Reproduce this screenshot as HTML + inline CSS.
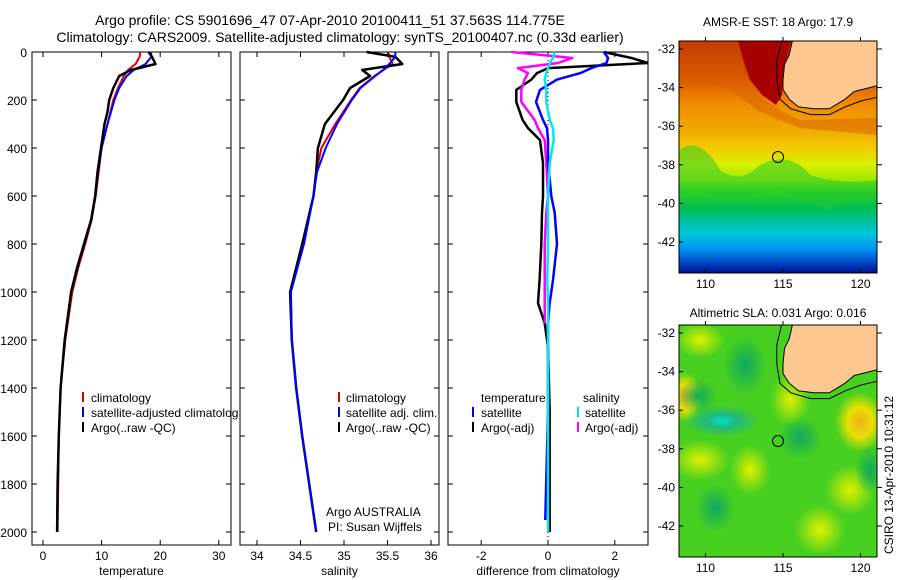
<!DOCTYPE html>
<html><head><meta charset="utf-8"><style>
body{margin:0;background:#fff;}
svg{display:block;font-family:"Liberation Sans",sans-serif;}
</style></head><body>
<svg id="fig" width="900" height="580" viewBox="0 0 900 580">
<defs>
<clipPath id="c1"><rect x="32" y="45" width="199" height="500"/></clipPath>
<clipPath id="c2"><rect x="240" y="45" width="199" height="500"/></clipPath>
<clipPath id="c3"><rect x="448" y="45" width="200" height="500"/></clipPath>
<clipPath id="cl1"><rect x="32" y="380" width="206" height="60"/></clipPath>
<clipPath id="m1"><rect x="679" y="41" width="198" height="232"/></clipPath>
<clipPath id="m2"><rect x="679" y="325" width="198" height="232"/></clipPath>
<linearGradient id="sst" x1="0" y1="41" x2="0" y2="273" gradientUnits="userSpaceOnUse">
<stop offset="0" stop-color="#b01800"/><stop offset="0.15" stop-color="#d85000"/>
<stop offset="0.26" stop-color="#f08800"/><stop offset="0.38" stop-color="#f0a800"/>
<stop offset="0.47" stop-color="#f0d000"/><stop offset="0.53" stop-color="#d8f000"/>
<stop offset="0.6" stop-color="#a0e800"/><stop offset="0.65" stop-color="#30d020"/>
<stop offset="0.72" stop-color="#00c050"/><stop offset="0.78" stop-color="#00c0a0"/>
<stop offset="0.83" stop-color="#00c8d8"/><stop offset="0.9" stop-color="#0090f0"/>
<stop offset="0.96" stop-color="#0040c0"/><stop offset="1" stop-color="#001090"/>
</linearGradient>
<radialGradient id="gy"><stop offset="0" stop-color="#e0f000"/><stop offset="1" stop-color="#e0f000" stop-opacity="0"/></radialGradient>
<radialGradient id="go"><stop offset="0" stop-color="#f0b020"/><stop offset="0.5" stop-color="#e8e000"/><stop offset="1" stop-color="#e8e000" stop-opacity="0"/></radialGradient>
<radialGradient id="gd"><stop offset="0" stop-color="#10a860"/><stop offset="1" stop-color="#10a860" stop-opacity="0"/></radialGradient>
<radialGradient id="gc"><stop offset="0" stop-color="#00e0d0"/><stop offset="0.4" stop-color="#20b880"/><stop offset="1" stop-color="#20b880" stop-opacity="0"/></radialGradient>
</defs>

<text x="330" y="25" font-size="14" text-anchor="middle">Argo profile: CS 5901696_47 07-Apr-2010 20100411_51 37.563S 114.775E</text>
<text x="340" y="42" font-size="14" text-anchor="middle">Climatology: CARS2009. Satellite-adjusted climatology: synTS_20100407.nc (0.33d earlier)</text>

<g id="p1"></g>
<g id="p2"></g>
<g id="p3"></g>

<g clip-path="url(#cl1)" font-size="12">
<line x1="83" y1="392" x2="83" y2="402" stroke="#e00000" stroke-width="2"/>
<text x="91" y="402">climatology</text>
<line x1="83" y1="407" x2="83" y2="417" stroke="#0000ff" stroke-width="2"/>
<text x="91" y="417">satellite-adjusted climatology</text>
<line x1="83" y1="422" x2="83" y2="432" stroke="#000" stroke-width="2"/>
<text x="91" y="432">Argo(..raw -QC)</text>
</g>
<g font-size="12">
<line x1="339" y1="392" x2="339" y2="402" stroke="#e00000" stroke-width="2"/>
<text x="346" y="402">climatology</text>
<line x1="339" y1="407" x2="339" y2="417" stroke="#0000ff" stroke-width="2"/>
<text x="346" y="417">satellite adj. clim.</text>
<line x1="339" y1="422" x2="339" y2="432" stroke="#000" stroke-width="2"/>
<text x="346" y="432">Argo(..raw -QC)</text>
<text x="326" y="516">Argo AUSTRALIA</text>
<text x="328" y="531">PI: Susan Wijffels</text>
</g>
<g font-size="12">
<text x="481" y="402">temperature</text>
<text x="583" y="402">salinity</text>
<line x1="473" y1="407" x2="473" y2="417" stroke="#0000ff" stroke-width="2"/>
<text x="481" y="417">satellite</text>
<line x1="473" y1="422" x2="473" y2="432" stroke="#000" stroke-width="2"/>
<text x="481" y="432">Argo(-adj)</text>
<line x1="578" y1="407" x2="578" y2="417" stroke="#00e0e8" stroke-width="2"/>
<text x="585" y="417">satellite</text>
<line x1="578" y1="422" x2="578" y2="432" stroke="#ff00ff" stroke-width="2"/>
<text x="585" y="432">Argo(-adj)</text>
</g>

<text x="778" y="26" font-size="12" text-anchor="middle">AMSR-E SST: 18 Argo: 17.9</text>
<g clip-path="url(#m1)">
<rect x="679" y="41" width="198" height="232" fill="url(#sst)"/>
<path d="M679,41 L740,41 L745,75 L765,100 L782,112 L800,120 L877,118 L877,135 L800,128 L760,112 L730,90 L700,80 L679,85Z" fill="#d86000" opacity="0.5"/>
<path d="M738,41 L790,41 L783,75 L782,95 L776,105 L762,95 L750,80 L744,62Z" fill="#a80000"/>
<path d="M679,150 Q700,135 720,170 Q740,185 760,165 Q790,150 810,175 Q840,185 877,180 L877,200 Q850,195 830,210 Q800,200 780,190 Q750,195 720,200 Q700,185 679,195Z" fill="#20c830" opacity="0.5"/>
</g>
<g id="land1"></g>
<rect x="679" y="41" width="198" height="232" fill="none" stroke="#000"/>
<circle cx="778" cy="157" r="5.5" fill="none" stroke="#000"/>

<text x="778" y="317" font-size="12" text-anchor="middle">Altimetric SLA: 0.031 Argo: 0.016</text>
<g clip-path="url(#m2)">
<rect x="679" y="325" width="198" height="232" fill="#48d020"/>
<ellipse cx="700" cy="340" rx="25" ry="18" fill="url(#gy)"/>
<ellipse cx="685" cy="397" rx="18" ry="25" fill="url(#go)"/>
<ellipse cx="860" cy="422" rx="25" ry="30" fill="url(#go)"/>
<ellipse cx="790" cy="400" rx="20" ry="25" fill="url(#gy)"/>
<ellipse cx="700" cy="460" rx="30" ry="20" fill="url(#gy)"/>
<ellipse cx="750" cy="470" rx="20" ry="25" fill="url(#gy)"/>
<ellipse cx="850" cy="490" rx="25" ry="25" fill="url(#gy)"/>
<ellipse cx="820" cy="530" rx="25" ry="25" fill="url(#gy)"/>
<ellipse cx="722" cy="421" rx="38" ry="16" fill="url(#gc)"/>
<ellipse cx="698" cy="396" rx="20" ry="18" fill="url(#gd)"/>
<ellipse cx="745" cy="365" rx="22" ry="30" fill="url(#gd)"/>
<ellipse cx="800" cy="438" rx="22" ry="22" fill="url(#gd)"/>
<ellipse cx="715" cy="508" rx="20" ry="25" fill="url(#gd)"/>
<ellipse cx="870" cy="470" rx="15" ry="25" fill="url(#gd)"/>
</g>
<g id="land2"></g>
<rect x="679" y="325" width="198" height="232" fill="none" stroke="#000"/>
<circle cx="778" cy="441" r="5.5" fill="none" stroke="#000"/>
<g id="mapaxes"></g>
<text transform="translate(893,475) rotate(-90)" font-size="12" text-anchor="middle">CSIRO 13-Apr-2010 10:31:12</text>
</svg>
<script>
const depthT = [0,20,50,75,100,150,200,250,300,400,500,600,700,800,900,1000,1200,1400,1600,1800,2000];
const tempClim = [16.6,16.5,15.8,14.5,13.8,12.8,12.0,11.5,11.0,10.0,9.5,9.0,8.3,7.2,6.0,5.0,3.8,3.0,2.7,2.6,2.5];
const tempSat  = [18.4,18.5,17.5,15.5,14.3,13.0,12.2,11.6,11.0,10.0,9.4,8.9,8.2,7.0,5.9,4.8,3.7,3.0,2.7,2.5,2.4];
const tempArgo = [18.0,18.6,19.2,15.0,13.0,12.0,11.3,11.0,10.5,9.9,9.3,8.9,8.2,7.0,5.8,4.8,3.7,3.0,2.7,2.5,2.4];
const depthS = [0,20,50,75,100,150,200,300,400,500,600,800,1000,1200,1400,1600,1800,2000];
const salClim = [35.51,35.52,35.56,35.45,35.35,35.18,35.08,34.90,34.74,34.68,34.65,34.53,34.39,34.40,34.45,34.52,34.60,34.68];
const salSat  = [35.59,35.59,35.52,35.45,35.36,35.19,35.09,34.92,34.79,34.69,34.65,34.54,34.39,34.40,34.45,34.52,34.60,34.68];
const salArgo = [35.26,35.59,35.67,35.21,35.30,35.07,34.99,34.78,34.70,34.68,34.65,34.52,34.38,34.40,34.45,34.52,34.60,34.68];
const depthD = [0,25,46,67,88,115,158,208,283,317,367,463,600,670,800,950,1046,1130,1230,1500,1950,2000];
const dTempSat  = [1.67,1.8,1.75,1.3,0.97,0.27,-0.24,-0.36,-0.15,-0.03,0.0,0.0,0.1,0.2,0.27,0.15,0.05,0.0,0.0,0.0,-0.08,null];
const dTempArgo = [1.67,2.5,3.0,0.0,-0.33,-0.5,-0.95,-0.95,-0.76,-0.6,-0.24,-0.15,-0.15,-0.18,-0.2,-0.25,-0.3,-0.1,0.0,0.05,0.05,0.05];
const dSalSat   = [0.2,0.15,0.05,0.0,-0.05,-0.1,-0.05,-0.05,0.05,0.15,0.17,0.05,0.0,0.0,0.0,-0.02,0.0,0.0,0.0,0.0,0.0,0.0];
const dSalArgo  = [-1.1,0.73,0.3,-0.9,-0.6,-0.7,-0.8,-0.8,-0.4,-0.3,-0.1,-0.05,0.0,-0.05,-0.1,-0.1,-0.1,-0.1,null,null,null,null];
const depthTicks = [0,200,400,600,800,1000,1200,1400,1600,1800,2000];
const tempTicks = [0,10,20,30];
const salTicks = [34,34.5,35,35.5,36];
const salTickLabels = ["34","34.5","35","35.5","36"];
const diffTicks = [-2,0,2];
const lonTicks = [110,115,120];
const latTicks = [-32,-34,-36,-38,-40,-42];
const coastLon = [115.6,115.4,115.1,115.0,115.0,115.4,116.0,117.0,118.0,119.0,119.6,120.6,121.2];
const coastLat = [-31.6,-32.3,-32.8,-33.6,-34.1,-34.6,-35.0,-35.1,-35.1,-34.6,-34.2,-34.0,-33.9];
const contLon = [114.9,114.6,114.6,114.8,115.5,116.8,118.0,119.0,120.0,121.2];
const contLat = [-31.6,-32.6,-33.6,-34.6,-35.1,-35.4,-35.4,-35.0,-34.7,-34.5];

const NS = "http://www.w3.org/2000/svg";
const yD = d => 52 + 0.24*d;
const xT = t => 43 + 5.86*t;
const xS = s => 257 + 87*(s-34);
const xDf = v => 548 + 33.4*v;
const mX = lon => 783 + 15.5*(lon-115);
const mY1 = lat => 49 + 19.3*(-32-lat);
const mY2 = lat => 333 + 19.3*(-32-lat);
const BOT = 545;

function el(tag, attrs, parent){const e=document.createElementNS(NS,tag);for(const k in attrs)e.setAttribute(k,attrs[k]);parent.appendChild(e);return e;}
function line(xs, ds, xf, color, w, parent, name){
  let d="",start=true;
  for(let i=0;i<ds.length;i++){ if(xs[i]===null||xs[i]===undefined){start=true;continue;}
    d+=(start?"M":"L")+xf(xs[i]).toFixed(1)+","+yD(ds[i]).toFixed(1); start=false;}
  const p=el("path",{d:d,fill:"none",stroke:color,"stroke-width":w,"stroke-linejoin":"round"},parent);
  
  
}
function panel(g, x0, x1, ticksX, labels, xf, xlabel, leftLabels, clip){
  const box=el("rect",{x:x0,y:52,width:x1-x0,height:BOT-52,fill:"#fff",stroke:"#000"},g);
  
  
  ticksX.forEach((t,i)=>{const x=xf(t);
    el("line",{x1:x,y1:52,x2:x,y2:57,stroke:"#000"},g);
    el("line",{x1:x,y1:BOT,x2:x,y2:BOT-5,stroke:"#000"},g);
    const tx=el("text",{x:x,y:560,"font-size":12,"text-anchor":"middle"},g);tx.textContent=labels[i];
    
    
  });
  depthTicks.forEach(d=>{const y=yD(d);
    el("line",{x1:x0,y1:y,x2:x0+5,y2:y,stroke:"#000"},g);
    el("line",{x1:x1,y1:y,x2:x1-5,y2:y,stroke:"#000"},g);
    if(leftLabels){const tx=el("text",{x:27,y:y+5,"font-size":12,"text-anchor":"end"},g);tx.textContent=d;
      
      }
  });
  const xl=el("text",{x:(x0+x1)/2,y:575,"font-size":12,"text-anchor":"middle"},g);xl.textContent=xlabel;
  
  
  return el("g",{"clip-path":"url(#"+clip+")"},g);
}
const p1=document.getElementById("p1"),p2=document.getElementById("p2"),p3=document.getElementById("p3");
const c1=panel(p1,32,231,tempTicks,tempTicks.map(String),xT,"temperature",true,"c1");
line(tempClim,depthT,xT,"#e00000",2,c1,"temp-climatology-line");
line(tempSat,depthT,xT,"#0000ff",2,c1,"temp-satellite-line");
line(tempArgo,depthT,xT,"#000",2.5,c1,"temp-argo-line");
const c2=panel(p2,240,439,salTicks,salTickLabels,xS,"salinity",false,"c2");
line(salClim,depthS,xS,"#e00000",2,c2,"sal-climatology-line");
line(salArgo,depthS,xS,"#000",2.5,c2,"sal-argo-line");
line(salSat,depthS,xS,"#0000ff",2,c2,"sal-satellite-line");
const c3=panel(p3,448,648,diffTicks,diffTicks.map(String),xDf,"difference from climatology",false,"c3");
el("line",{x1:548,y1:52,x2:548,y2:BOT,stroke:"#000","stroke-dasharray":"1,3"},c3);
line(dTempArgo,depthD,xDf,"#000",2.5,c3,"diff-temp-argo-line");
line(dSalArgo,depthD,xDf,"#ff00ff",2.5,c3,"diff-sal-argo-line");
line(dTempSat,depthD,xDf,"#0000ff",2.5,c3,"diff-temp-satellite-line");
line(dSalSat,depthD,xDf,"#00e8f0",2.5,c3,"diff-sal-satellite-line");

function land(gid, yf, top, name){
  const g=document.getElementById(gid);
  let d="M"+mX(coastLon[0])+","+top;
  coastLon.forEach((lo,i)=>{d+=" L"+Math.min(877,mX(lo)).toFixed(1)+","+yf(coastLat[i]).toFixed(1);});
  d+=" L877,"+top+"Z";
  const p=el("path",{d:d,fill:"#fcc890",stroke:"#000","stroke-width":1},g);
  
  
  let c="";
  contLon.forEach((lo,i)=>{c+=(i?" L":"M")+Math.min(877,mX(lo)).toFixed(1)+","+Math.max(top,yf(contLat[i])).toFixed(1);});
  const q=el("path",{d:c,fill:"none",stroke:"#000","stroke-width":1},g);
  
  
}
land("land1",mY1,41,"land-australia");
land("land2",mY2,325,"land-australia");
const ma=document.getElementById("mapaxes");
[[41,273,mY1],[325,557,mY2]].forEach(([t,b,yf])=>{
  lonTicks.forEach(lo=>{const x=mX(lo);
    el("line",{x1:x,y1:t,x2:x,y2:t-4,stroke:"#000"},ma);
    el("line",{x1:x,y1:b,x2:x,y2:b-4,stroke:"#000"},ma);
    const tx=el("text",{x:x,y:b+15,"font-size":12,"text-anchor":"middle"},ma);tx.textContent=lo;
    
    });
  latTicks.forEach(la=>{const y=yf(la);
    el("line",{x1:877,y1:y,x2:882,y2:y,stroke:"#000"},ma);
    el("line",{x1:679,y1:y,x2:683,y2:y,stroke:"#000"},ma);
    const tx=el("text",{x:675,y:y+4,"font-size":12,"text-anchor":"end"},ma);tx.textContent=la;
    
    });
});
</script>
</body></html>
